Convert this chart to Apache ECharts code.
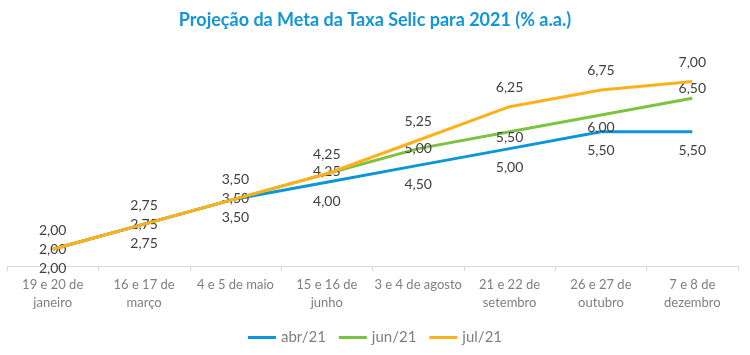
<!DOCTYPE html>
<html><head><meta charset="utf-8">
<script src="https://cdn.jsdelivr.net/npm/echarts@6/dist/echarts.min.js"></script>
<style>html,body{margin:0;padding:0;background:#fff}#c{width:750px;height:355px}</style>
</head><body><div id="c"></div>
<script>
const categories = ["19 e 20 de\njaneiro","16 e 17 de\nmarço","4 e 5 de maio","15 e 16 de\njunho","3 e 4 de agosto","21 e 22 de\nsetembro","26 e 27 de\noutubro","7 e 8 de\ndezembro"];
const abr21 = [2.00, 2.75, 3.50, 4.00, 4.50, 5.00, 5.50, 5.50];
const jun21 = [2.00, 2.75, 3.50, 4.25, 5.00, 5.50, 6.00, 6.50];
const jul21 = [2.00, 2.75, 3.50, 4.25, 5.25, 6.25, 6.75, 7.00];
const seriesNames = ["abr/21","jun/21","jul/21"];

// layout-only: vertical nudges for the jun/21 labels
const junLabelDy = [0, 0, 0, -2, 0, 6, 12, -10];

const FONT = "Lato";
const fmt = v => v.toFixed(2).replace('.', ',');
const labelBase = {show:true, color:'#404040', fontSize:14, fontFamily:FONT, formatter:p=>fmt(p.value)};

const chart = echarts.init(document.getElementById('c'));
chart.setOption({
  animation:false,
  title:{text:'Projeção da Meta da Taxa Selic para 2021 (% a.a.)', left:'center', top:6,
    textStyle:{color:'#1495d6', fontSize:18, fontWeight:'bold', fontFamily:FONT}},
  legend:{bottom:5, left:'center', itemWidth:28, itemHeight:3, itemGap:13, icon:'rect',
    textStyle:{color:'#7f7f7f', fontSize:15, fontFamily:FONT}, data:seriesNames},
  grid:{left:7, right:12, top:48, bottom:89, containLabel:false},
  xAxis:{type:'category', data:categories, boundaryGap:true,
    axisLine:{lineStyle:{color:'#d9d9d9', width:1}},
    axisTick:{show:true, length:5, lineStyle:{color:'#d9d9d9'}},
    axisLabel:{color:'#7f7f7f', fontSize:13, fontFamily:FONT, lineHeight:18, margin:10, interval:0}},
  yAxis:{type:'value', min:1.5, max:8, show:false, splitLine:{show:false}},
  series:[
    {name:seriesNames[0], type:'line', data:abr21, symbol:'circle', symbolSize:0, showSymbol:true, lineStyle:{width:3, color:'#0a96d8'}, itemStyle:{color:'#0a96d8'},
      label:Object.assign({}, labelBase, {position:'bottom', distance:12}), z:2},
    {name:seriesNames[1], type:'line', data:jun21.map((v,i)=>({value:v, label:{offset:[0, junLabelDy[i]]}})), symbol:'circle', symbolSize:0, showSymbol:true, lineStyle:{width:3, color:'#7dc241'}, itemStyle:{color:'#7dc241'},
      label:Object.assign({}, labelBase, {position:'inside'}), z:3},
    {name:seriesNames[2], type:'line', data:jul21, symbol:'circle', symbolSize:0, showSymbol:true, lineStyle:{width:3, color:'#ffb01a'}, itemStyle:{color:'#ffb01a'},
      label:Object.assign({}, labelBase, {position:'top', distance:12}), z:4}
  ]
});
</script></body></html>
